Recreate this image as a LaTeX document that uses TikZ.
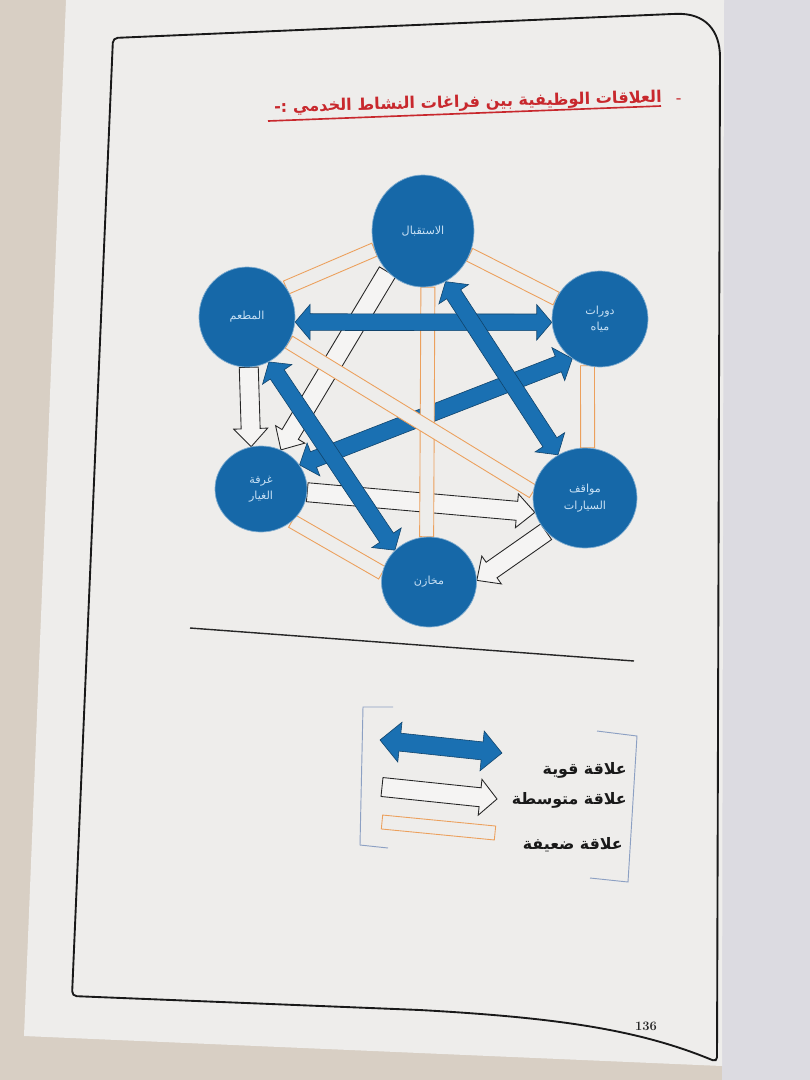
\documentclass[tikz,border=0pt]{standalone}
\usepackage{fontspec}
\usetikzlibrary{calc,shapes.geometric}
\TeXXeTstate=1
\newfontfamily\arabicfont[Script=Arabic]{DejaVu Sans}
\definecolor{nodeblue}{RGB}{22,104,168}
\definecolor{arrowblue}{RGB}{26,112,178}
\definecolor{weakor}{RGB}{236,160,92}
\definecolor{titlered}{RGB}{200,40,45}
\definecolor{pagecol}{RGB}{238,237,235}
\definecolor{bgcol}{RGB}{216,207,196}
\definecolor{sidepage}{RGB}{220,219,225}
\definecolor{bracketcol}{RGB}{140,160,195}
\definecolor{labelcol}{RGB}{200,225,245}
\pgfdeclarelayer{bglayer}
\pgfdeclarelayer{connlayer}
\pgfsetlayers{bglayer,connlayer,main}
% single-headed fat arrow: style, from, to, shaft half width, head half width, head length
\newcommand\SArrow[6]{%
 \coordinate (qA) at (#2); \coordinate (qB) at (#3);
 \coordinate (qC) at ($(qB)!#6!(qA)$);
 \draw[#1] ($(qA)!#4!90:(qB)$) -- ($(qC)!#4!-90:(qA)$) -- ($(qC)!#5!-90:(qA)$) -- (qB) -- ($(qC)!#5!90:(qA)$) -- ($(qC)!#4!90:(qA)$) -- ($(qA)!#4!-90:(qB)$) -- cycle;}
% double-headed fat arrow
\newcommand\DArrow[6]{%
 \coordinate (qA) at (#2); \coordinate (qB) at (#3);
 \coordinate (qC) at ($(qB)!#6!(qA)$); \coordinate (qD) at ($(qA)!#6!(qB)$);
 \draw[#1] (qA) -- ($(qD)!#5!90:(qB)$) -- ($(qD)!#4!90:(qB)$) -- ($(qC)!#4!-90:(qA)$) -- ($(qC)!#5!-90:(qA)$) -- (qB) -- ($(qC)!#5!90:(qA)$) -- ($(qC)!#4!90:(qA)$) -- ($(qD)!#4!-90:(qB)$) -- ($(qD)!#5!-90:(qB)$) -- cycle;}
% band: style, from, to, half width
\newcommand\Band[4]{%
 \coordinate (qA) at (#2); \coordinate (qB) at (#3);
 \draw[#1] ($(qA)!#4!90:(qB)$) -- ($(qB)!#4!-90:(qA)$) -- ($(qB)!#4!90:(qA)$) -- ($(qA)!#4!-90:(qB)$) -- cycle;}
\tikzset{
 space/.style={ellipse, fill=nodeblue, draw=nodeblue!55!white, line width=0.6pt, inner sep=0pt,
   text=labelcol, font=\arabicfont\fontsize{9.5}{14}\selectfont, align=center},
 strongarr/.style={fill=arrowblue, draw=arrowblue!60!black, line width=0.5pt},
 mediumarr/.style={fill=pagecol!60!white, draw=black!85, line width=0.75pt},
 weakband/.style={fill=pagecol, draw=weakor, line width=0.75pt},
 legtext/.style={font=\arabicfont\bfseries\fontsize{13.5}{15}\selectfont, text=black!90, anchor=east, inner sep=0pt},
 bracketline/.style={draw=bracketcol, line width=0.8pt},
 frameline/.style={draw=black!90, line width=1.6pt, rounded corners=4pt}
}
\begin{document}
\begin{tikzpicture}[x=0.03cm, y=-0.03cm]
\useasboundingbox (0,0) rectangle (810,1080);
\begin{pgfonlayer}{bglayer}
 \fill[bgcol] (0,0) rectangle (810,1080);
 \fill[sidepage] (722,0) rectangle (810,1080);
 \fill[pagecol] (66,0) -- (724,0) -- (722,1066) -- (24,1036) -- cycle;
 \draw[frameline] (113,38) -- (672,14) .. controls (705,13) and (720,30) .. (720,62) -- (717,1062) .. controls (640,1030) and (560,1018) .. (420,1010) -- (72,996) -- cycle;
\end{pgfonlayer}

% title
\node[text=titlered, font=\arabicfont\bfseries\fontsize{13.8}{17}\selectfont, anchor=east, rotate=1.5, inner sep=0pt] (title) at (662,98) {\beginR العلاقات الوظيفية بين فراغات النشاط الخدمي :-\endR};
\node[text=titlered, font=\bfseries\fontsize{12}{14}\selectfont, inner sep=0pt] (bullet) at (679,101) {-};
\draw[titlered, line width=1.4pt] (268,121) -- (661,106);

% spaces
\node[space, minimum width=3.06cm, minimum height=3.36cm] (A) at (423,231) {\beginR الاستقبال\endR};
\node[space, minimum width=2.88cm, minimum height=3.0cm] (R) at (247,317) {\beginR المطعم\endR};
\node[space, minimum width=2.88cm, minimum height=2.88cm] (W) at (600,319) {\beginR دورات\endR\\\beginR مياه\endR};
\node[space, minimum width=2.76cm, minimum height=2.58cm] (G) at (261,489) {\beginR غرفة\endR\\\beginR الغيار\endR};
\node[space, minimum width=3.12cm, minimum height=3.0cm] (P) at (585,498) {\beginR مواقف\endR\\\beginR السيارات\endR};
\node[space, minimum width=2.85cm, minimum height=2.7cm] (S) at (429,582) {\beginR مخازن\endR};

\begin{pgfonlayer}{connlayer}
 % medium relations
 \SArrow{mediumarr}{A.229}{G.63}{0.285cm}{0.51cm}{0.54cm}
 \SArrow{mediumarr}{R.-88}{G.103}{0.285cm}{0.51cm}{0.54cm}
 \SArrow{mediumarr}{G.-4}{P.196}{0.285cm}{0.51cm}{0.54cm}
 \SArrow{mediumarr}{P.221}{S.2}{0.285cm}{0.51cm}{0.54cm}
 % strong relations (lower ones)
 \DArrow{strongarr}{W.235}{G.32}{0.25cm}{0.53cm}{0.45cm}
 \DArrow{strongarr}{R.-64}{S.137}{0.25cm}{0.53cm}{0.45cm}
 % weak relations
 \Band{weakband}{R.37}{A.201}{0.21cm}
 \Band{weakband}{A.-27}{W.155}{0.21cm}
 \Band{weakband}{A.-85}{S.93}{0.21cm}
 \Band{weakband}{R.-31}{P.173}{0.21cm}
 \Band{weakband}{W.255}{P.87}{0.21cm}
 \Band{weakband}{G.-46}{S.169}{0.21cm}
 % strong relations (upper ones)
 \DArrow{strongarr}{R.-6}{W.184}{0.25cm}{0.53cm}{0.45cm}
 \DArrow{strongarr}{A.-66}{P.122}{0.25cm}{0.53cm}{0.45cm}
\end{pgfonlayer}

% separator
\draw[black!85, line width=1.2pt] (190,628) -- (634,661);

% legend
\draw[bracketline] (393,707) -- (363,707) -- (360,845) -- (388,848);
\draw[bracketline] (597,731) -- (637,736) -- (628,882) -- (590,878);
\coordinate (lgSa) at (380,740);
\coordinate (lgSb) at (502,753);
\coordinate (lgMa) at (382,787);
\coordinate (lgMb) at (497,799);
\coordinate (lgWa) at (382,822);
\coordinate (lgWb) at (495,833);
\DArrow{strongarr}{lgSa}{lgSb}{0.27cm}{0.6cm}{0.6cm}
\SArrow{mediumarr}{lgMa}{lgMb}{0.285cm}{0.54cm}{0.51cm}
\Band{weakband}{lgWa}{lgWb}{0.21cm}
\node[legtext] (l1) at (627,770) {\beginR علاقة قوية\endR};
\node[legtext] (l2) at (627,800) {\beginR علاقة متوسطة\endR};
\node[legtext] (l3) at (623,845) {\beginR علاقة ضعيفة\endR};

% page number
\node[font=\bfseries\fontsize{11}{12}\selectfont, text=black!85] (pg) at (646,1026) {136};
\end{tikzpicture}
\end{document}
